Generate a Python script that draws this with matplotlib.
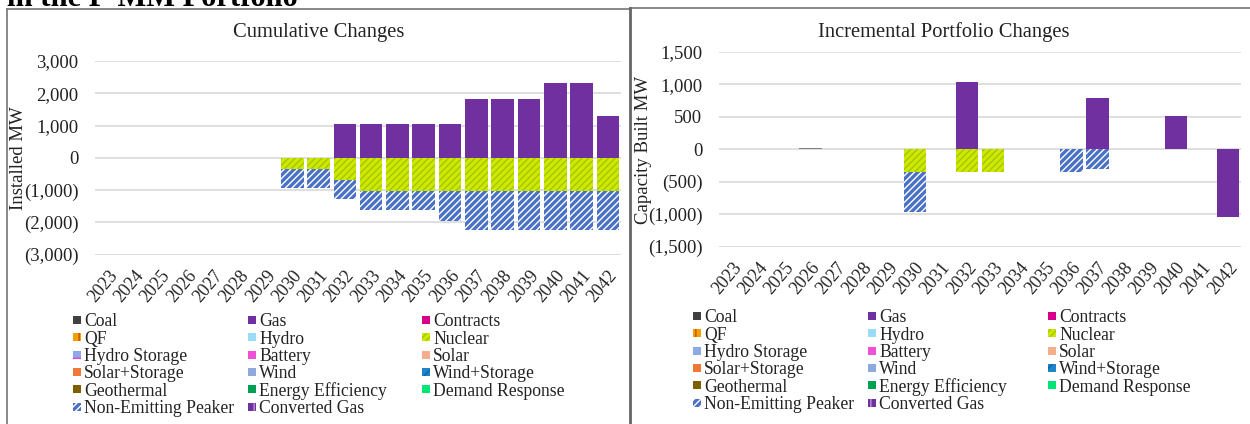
import numpy as np
import matplotlib
matplotlib.use("Agg")
import matplotlib.pyplot as plt
from matplotlib.patches import Rectangle
from matplotlib.lines import Line2D
from matplotlib.ticker import FuncFormatter

plt.rcParams['font.family'] = ['Liberation Serif', 'DejaVu Serif']
plt.rcParams['hatch.linewidth'] = 1.0

W, H = 1250, 424

years = [str(y) for y in range(2023, 2043)]

# ---- Cumulative changes (MW) ----
cum_gas = [0, 0, 0, 0, 0, 0, 0, 0, 0, 1040, 1040, 1040, 1040, 1040, 1810, 1810, 1810, 2330, 2330, 1290]
cum_nuclear = [0, 0, 0, 0, 0, 0, 0, -350, -350, -680, -1020, -1020, -1020, -1020, -1020, -1020, -1020, -1020, -1020, -1020]
cum_peaker = [0, 0, 0, 0, 0, 0, 0, -590, -590, -600, -600, -600, -600, -940, -1230, -1230, -1230, -1230, -1230, -1230]

# ---- Incremental portfolio changes (MW) ----
inc_coal = [0, 0, 0, 12, 0, 0, 0, 0, 0, 0, 0, 0, 0, 0, 0, 0, 0, 0, 0, 0]
inc_gas = [0, 0, 0, 0, 0, 0, 0, 0, 0, 1040, 0, 0, 0, 0, 785, 0, 0, 515, 0, -1040]
inc_nuclear = [0, 0, 0, 0, 0, 0, 0, -345, 0, -350, -350, 0, 0, 0, 0, 0, 0, 0, 0, 0]
inc_peaker = [0, 0, 0, 0, 0, 0, 0, -615, 0, 0, 0, 0, 0, -350, -300, 0, 0, 0, 0, 0]

left_yticks = [-3000, -2000, -1000, 0, 1000, 2000, 3000]
right_yticks = [-1500, -1000, -500, 0, 500, 1000, 1500]

# legend entries (row-major as shown)
leg_names = ["Coal", "Gas", "Contracts",
             "QF", "Hydro", "Nuclear",
             "Hydro Storage", "Battery", "Solar",
             "Solar+Storage", "Wind", "Wind+Storage",
             "Geothermal", "Energy Efficiency", "Demand Response",
             "Non-Emitting Peaker", "Converted Gas"]
leg_face = ["#404040", "#7030A0", "#D9008D",
            "#F0A000", "#9ADCF6", "#CCEA00",
            "#8FA8E8", "#F050D8", "#F4AE8C",
            "#F07838", "#8EA9DB", "#1E86C8",
            "#7F6000", "#00A050", "#00E676",
            "#4A72C4", "#7030A0"]
leg_hatch = [None, None, None,
             "||", None, "/////",
             "-", None, None,
             None, None, "//",
             None, None, None,
             "/////", "||"]
leg_hcol = [None, None, None,
            "#C85000", None, "#A8C400",
            "#E040E0", None, None,
            None, None, "#1060A8",
            None, None, None,
            "#FFFFFF", "#B898D8"]

COL = {
    "Coal": ("#808080", None, None),
    "Gas": ("#7030A0", None, None),
    "Nuclear": ("#CCEA00", "/////", "#A8C400"),
    "Non-Emitting Peaker": ("#4A72C4", "/////", "#FFFFFF"),
}

fig = plt.figure(figsize=(W / 100, H / 100), dpi=100)


def fx(px):
    return px / W


def fy(py):
    return 1 - py / H


def fmt(v, pos):
    if v < 0:
        return "({:,.0f})".format(-v)
    return "{:,.0f}".format(v)


def draw_stack(ax, series):
    x = np.arange(len(years))
    pos = np.zeros(len(years))
    neg = np.zeros(len(years))
    for name, vals in series:
        vals = np.asarray(vals, dtype=float)
        face, hatch, hcol = COL[name]
        bottoms = np.where(vals >= 0, pos, neg)
        m = vals != 0
        ax.bar(x[m], vals[m], 0.86, bottom=bottoms[m], color=face, hatch=hatch,
               edgecolor=hcol if hcol else face, linewidth=0,
               zorder=3)
        pos = pos + np.where(vals > 0, vals, 0)
        neg = neg + np.where(vals < 0, vals, 0)


def style_axes(ax, ticks):
    ax.set_xlim(-0.5, len(years) - 0.5)
    ax.set_ylim(ticks[0], ticks[-1])
    ax.set_yticks(ticks)
    ax.yaxis.set_major_formatter(FuncFormatter(fmt))
    ax.grid(axis="y", color="#D9D9D9", linewidth=1.2, zorder=0)
    for s in ax.spines.values():
        s.set_visible(False)
    ax.tick_params(axis="both", length=0, labelsize=13.5, colors="#222222")
    ax.tick_params(axis="y", pad=12)
    ax.set_xticks(np.arange(len(years)))
    ax.set_xticklabels(years, rotation=50, ha="right", va="top",
                       rotation_mode="anchor", fontsize=13)
    ax.tick_params(axis="x", pad=9)


# Left axes
axL = fig.add_axes([fx(95), fy(254.5), fx(621 - 95), (254.5 - 61) / H])
draw_stack(axL, [("Gas", cum_gas), ("Nuclear", cum_nuclear),
                 ("Non-Emitting Peaker", cum_peaker)])
style_axes(axL, left_yticks)

# Right axes
axR = fig.add_axes([fx(719), fy(246.8), fx(1241 - 719), (246.8 - 51.7) / H])
draw_stack(axR, [("Coal", inc_coal), ("Gas", inc_gas), ("Nuclear", inc_nuclear),
                 ("Non-Emitting Peaker", inc_peaker)])
style_axes(axR, right_yticks)

# Titles
fig.text(fx(319), fy(32), "Cumulative Changes", ha="center", va="center",
         fontsize=14.8, color="#222222")
fig.text(fx(944), fy(32), "Incremental Portfolio Changes", ha="center",
         va="center", fontsize=14.8, color="#222222")

# Y labels
fig.text(fx(19), fy(158), "Installed MW", rotation=90, ha="center",
         va="center", fontsize=13.5, color="#222222")
fig.text(fx(643), fy(150), "Capacity Built MW", rotation=90, ha="center",
         va="center", fontsize=13.5, color="#222222")

# Header (cut off at top)
fig.text(fx(7), fy(6), "in the P-MM Portfolio", ha="left", va="baseline",
         fontsize=22, fontweight="bold", color="black")

# Panel borders
fig.add_artist(Line2D([fx(7), fx(7)], [fy(9), fy(430)], color="#7F7F7F", lw=1.3))
fig.add_artist(Line2D([fx(7), fx(630)], [fy(9), fy(9)], color="#7F7F7F", lw=1.3))
fig.add_artist(Line2D([fx(630), fx(1252)], [fy(8), fy(8)], color="#7F7F7F", lw=1.3))
fig.add_artist(Line2D([fx(630), fx(630)], [fy(8), fy(430)], color="#666666", lw=2.0))


def draw_legend(col_x, row_y):
    for i, name in enumerate(leg_names):
        r, c = divmod(i, 3)
        mx = col_x[c]
        my = row_y[r]
        hc = leg_hcol[i] if leg_hcol[i] else leg_face[i]
        rect = Rectangle((fx(mx), fy(my + 4)), fx(8), 8 / H,
                         transform=fig.transFigure, facecolor=leg_face[i],
                         edgecolor=hc, hatch=leg_hatch[i], linewidth=0)
        fig.add_artist(rect)
        fig.text(fx(mx + 11), fy(my), name, ha="left", va="center_baseline",
                 fontsize=12.7, color="#222222")


draw_legend([73, 248, 422], [320, 337.3, 354.6, 371.9, 389.2, 406.5])
draw_legend([693, 868, 1048], [316, 333.3, 350.6, 367.9, 385.2, 402.5])

fig.savefig("out.png", dpi=100)
